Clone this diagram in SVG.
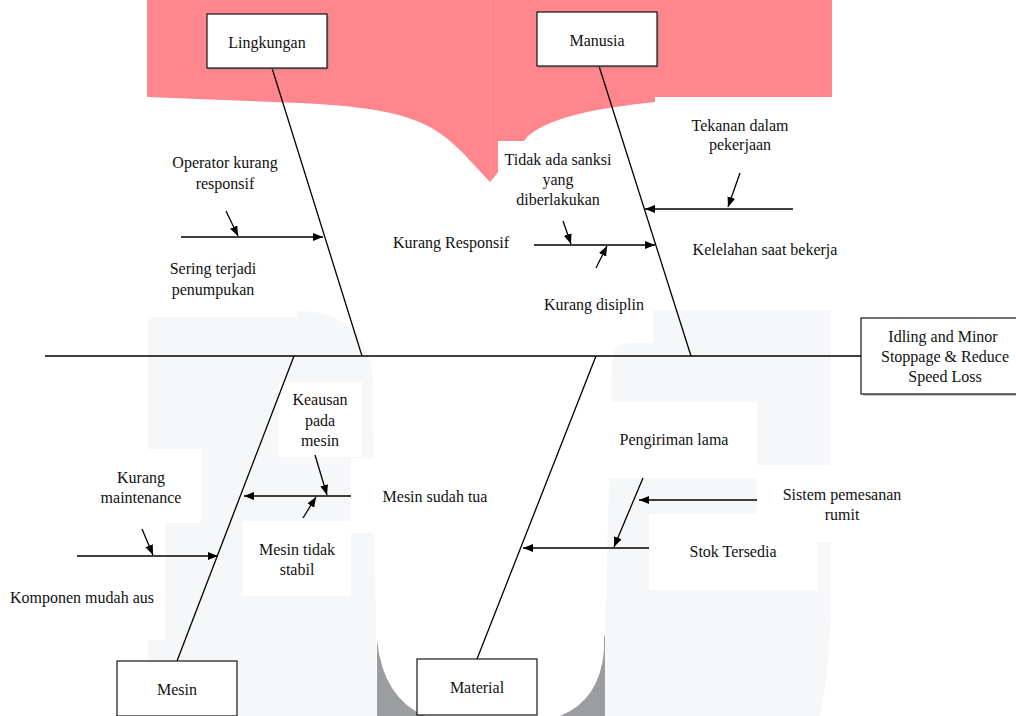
<svg xmlns="http://www.w3.org/2000/svg" width="1016" height="716" viewBox="0 0 1016 716">
<defs>
<style>
.t{font-family:"Liberation Serif","Times New Roman",serif;font-size:16px;fill:#111;text-anchor:middle}
.ln{stroke:#000;stroke-width:1.3;fill:none}
.box{fill:#fff;stroke:#000;stroke-width:1.1}
.sh{fill:#8a8a8a;opacity:0.5}
.wm{fill:#f6f7f9}
.wb{fill:#fff}
</style>
<marker id="ah" viewBox="0 0 10 8" refX="10" refY="4" markerWidth="10" markerHeight="8" markerUnits="userSpaceOnUse" orient="auto">
<path d="M0,0 L10,4 L0,8 Z" fill="#000"/>
</marker>
</defs>
<rect width="1016" height="716" fill="#fff"/>
<g id="background">
<path d="M147,0 H832 V97 L655,102 C600,108 552,116 528,136 L490,182 L462,152 C432,122 405,108 300,103 L147,97 Z" fill="#ff868d"/>
<line x1="490" y1="0" x2="490" y2="180" stroke="#ff959b" stroke-width="1"/>
<path class="wm" d="M148,317 H297 V311 Q372,311 373,390 L377,716 H148 Z"/>
<path class="wm" d="M653,310 H831 V600 Q830,670 820,716 H603 L612,360 Q613,343 630,343 H653 Z"/>
<rect x="377" y="636" width="228" height="80" fill="#9c9da1"/>
<path d="M377,600 V640 Q383,698 425,716 H560 Q600,700 604,650 V600 Z" fill="#fff"/>
<rect class="wb" x="498" y="141" width="157" height="160"/>
<rect class="wb" x="655" y="97" width="361" height="205"/>
<rect class="wb" x="279" y="382" width="83" height="75"/>
<rect class="wb" x="351" y="458" width="30" height="75"/>
<rect class="wb" x="243" y="521" width="108" height="75"/>
<rect class="wb" x="148" y="449" width="53" height="74"/>
<rect class="wb" x="148" y="523" width="17" height="117"/>
<rect class="wb" x="608" y="402" width="149" height="76"/>
<rect class="wb" x="757" y="465" width="75" height="77"/>
<rect class="wb" x="649" y="514" width="168" height="76"/>
</g>
<g id="connectors">
<line class="ln" x1="45" y1="356" x2="861" y2="356"/>
<line class="ln" x1="272" y1="68" x2="362" y2="356"/>
<line class="ln" x1="599" y1="66" x2="691" y2="356"/>
<line class="ln" x1="294" y1="356" x2="177" y2="661"/>
<line class="ln" x1="596" y1="356" x2="477" y2="659"/>
<line class="ln" x1="181" y1="237" x2="323" y2="237" marker-end="url(#ah)"/>
<line class="ln" x1="226" y1="211" x2="238" y2="236" marker-end="url(#ah)"/>
<line class="ln" x1="534" y1="245" x2="655" y2="245" marker-end="url(#ah)"/>
<line class="ln" x1="563" y1="221" x2="571" y2="244" marker-end="url(#ah)"/>
<line class="ln" x1="596" y1="268" x2="607" y2="246" marker-end="url(#ah)"/>
<line class="ln" x1="793" y1="209" x2="645" y2="209" marker-end="url(#ah)"/>
<line class="ln" x1="740" y1="173" x2="728" y2="207" marker-end="url(#ah)"/>
<line class="ln" x1="351" y1="496" x2="244" y2="496" marker-end="url(#ah)"/>
<line class="ln" x1="315" y1="455" x2="327" y2="495" marker-end="url(#ah)"/>
<line class="ln" x1="303" y1="518" x2="316" y2="497" marker-end="url(#ah)"/>
<line class="ln" x1="77" y1="556" x2="218" y2="556" marker-end="url(#ah)"/>
<line class="ln" x1="142" y1="529" x2="153" y2="555" marker-end="url(#ah)"/>
<line class="ln" x1="757" y1="500" x2="639" y2="500" marker-end="url(#ah)"/>
<line class="ln" x1="649" y1="548" x2="523" y2="548" marker-end="url(#ah)"/>
<line class="ln" x1="643" y1="478" x2="614" y2="547" marker-end="url(#ah)"/>
</g>
<g id="node-lingkungan">
<rect class="sh" x="209" y="16" width="120" height="54"/>
<rect class="box" x="207" y="14" width="120" height="54"/>
<text class="t" x="267" y="48">Lingkungan</text>
</g>
<g id="node-manusia">
<rect class="sh" x="539" y="14" width="120" height="54"/>
<rect class="box" x="537" y="12" width="120" height="54"/>
<text class="t" x="597" y="46">Manusia</text>
</g>
<g id="node-mesin">
<rect class="box" x="117" y="661" width="120" height="55"/>
<text class="t" x="177" y="695">Mesin</text>
</g>
<g id="node-material">
<rect class="box" x="417" y="659" width="120" height="56"/>
<text class="t" x="477" y="693">Material</text>
</g>
<g id="node-effect">
<rect class="sh" x="863" y="320" width="155" height="76"/>
<rect class="box" x="861" y="318" width="156" height="76"/>
<text class="t" x="943" y="342">Idling and Minor</text>
<text class="t" x="945" y="362">Stoppage &amp; Reduce</text>
<text class="t" x="945" y="382">Speed Loss</text>
</g>
<g id="cause-operator"><text class="t" x="225" y="168">Operator kurang</text><text class="t" x="225" y="189">responsif</text></g>
<g id="cause-sering"><text class="t" x="213" y="274">Sering terjadi</text><text class="t" x="213" y="295">penumpukan</text></g>
<g id="cause-sanksi"><text class="t" x="558" y="165">Tidak ada sanksi</text><text class="t" x="558" y="185">yang</text><text class="t" x="558" y="205">diberlakukan</text></g>
<g id="cause-kurang-responsif"><text class="t" x="451" y="248">Kurang Responsif</text></g>
<g id="cause-disiplin"><text class="t" x="594" y="310">Kurang disiplin</text></g>
<g id="cause-tekanan"><text class="t" x="740" y="131">Tekanan dalam</text><text class="t" x="740" y="150">pekerjaan</text></g>
<g id="cause-kelelahan"><text class="t" x="765" y="255">Kelelahan saat bekerja</text></g>
<g id="cause-keausan"><text class="t" x="320" y="405">Keausan</text><text class="t" x="320" y="426">pada</text><text class="t" x="320" y="446">mesin</text></g>
<g id="cause-mesin-tua"><text class="t" x="435" y="502">Mesin sudah tua</text></g>
<g id="cause-tidak-stabil"><text class="t" x="297" y="555">Mesin tidak</text><text class="t" x="297" y="575">stabil</text></g>
<g id="cause-maintenance"><text class="t" x="141" y="483">Kurang</text><text class="t" x="141" y="503">maintenance</text></g>
<g id="cause-komponen"><text class="t" x="82" y="603">Komponen mudah aus</text></g>
<g id="cause-pengiriman"><text class="t" x="674" y="445">Pengiriman lama</text></g>
<g id="cause-sistem"><text class="t" x="842" y="500">Sistem pemesanan</text><text class="t" x="842" y="520">rumit</text></g>
<g id="cause-stok"><text class="t" x="733" y="557">Stok Tersedia</text></g>
</svg>
